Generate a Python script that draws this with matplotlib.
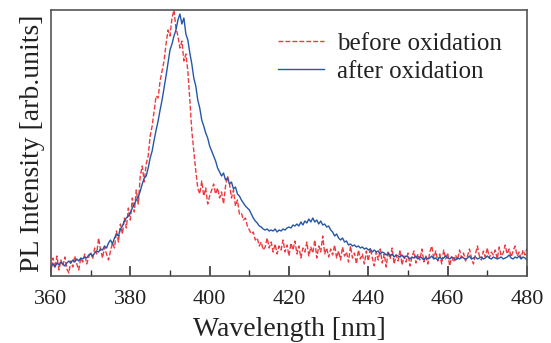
import numpy as np
import matplotlib as mpl
mpl.use('Agg')
import matplotlib.pyplot as plt

plt.rcParams['font.family'] = ['Liberation Serif', 'DejaVu Serif']

# wavelength grid, 0.5 nm steps from 360 to 480 nm
wl = np.arange(360, 480.5, 0.5)

# PL intensity after oxidation (arb. units)
after = [
    10, 12, 9, 13, 11, 14, 12, 10, 13, 15, 13, 16, 14, 17, 15, 18, 17, 19, 18, 21,
    22, 20, 23, 25, 24, 27, 26, 30, 28, 33, 36, 32, 38, 42, 40, 47, 50, 55, 58, 60,
    63, 68, 72, 76, 79, 85, 92, 98, 100, 108, 118, 125, 136, 146, 155, 166, 176, 188, 200, 213,
    226, 232, 240, 246, 256, 262, 252, 258, 242, 236, 223, 212, 198, 190, 176, 168, 156, 150, 143, 138,
    130, 125, 120, 115, 108, 104, 100, 103, 96, 98, 92, 94, 87, 89, 82, 80, 76, 73, 70, 68,
    66, 62, 58, 55, 53, 50, 49, 47, 46, 47, 45, 46, 45, 47, 44, 46, 45, 47, 46, 48,
    49, 48, 51, 50, 52, 50, 54, 51, 55, 53, 57, 54, 58, 54, 56, 52, 55, 51, 52, 49,
    50, 46, 44, 40, 42, 38, 36, 38, 34, 35, 31, 32, 30, 31, 29, 30, 28, 29, 27, 28,
    26, 27, 24, 26, 24, 25, 22, 24, 23, 21, 23, 20, 22, 19, 21, 20, 19, 21, 18, 20,
    19, 17, 19, 18, 20, 17, 19, 18, 16, 19, 17, 18, 20, 17, 18, 16, 19, 17, 18, 20,
    18, 17, 19, 18, 16, 18, 17, 19, 18, 17, 18, 20, 17, 18, 19, 17, 18, 19, 17, 18,
    20, 18, 17, 19, 18, 17, 18, 19, 17, 18, 19, 21, 18, 17, 19, 18, 20, 17, 19, 18,
    16,
]

# PL intensity before oxidation (arb. units)
before = [
    2, 18, 8, 20, 6, 16, 10, 19, 7, 3, 15, 9, 20, 12, 6, 18, 14, 22, 12, 19,
    24, 17, 28, 22, 38, 26, 18, 29, 22, 16, 25, 33, 28, 45, 34, 52, 42, 58, 48, 68,
    56, 78, 64, 86, 72, 100, 110, 94, 112, 120, 140, 150, 165, 180, 178, 195, 205, 215, 232, 246,
    240, 258, 266, 248, 240, 228, 235, 215, 222, 205, 176, 145, 125, 105, 88, 82, 95, 80, 88, 72,
    80, 86, 92, 82, 88, 78, 84, 72, 90, 100, 92, 78, 86, 70, 76, 62, 63, 56, 58, 50,
    46, 42, 44, 36, 38, 30, 34, 26, 29, 38, 28, 34, 24, 32, 22, 30, 26, 36, 24, 31,
    20, 33, 26, 35, 22, 30, 18, 28, 24, 34, 20, 29, 23, 36, 18, 30, 24, 40, 22, 28,
    19, 27, 21, 31, 18, 25, 16, 29, 20, 24, 14, 30, 18, 23, 12, 26, 17, 22, 12, 25,
    15, 28, 18, 10, 24, 16, 27, 13, 22, 9, 25, 17, 28, 12, 21, 15, 26, 11, 20, 14,
    23, 10, 19, 25, 13, 22, 16, 27, 14, 20, 12, 24, 30, 18, 25, 15, 22, 12, 26, 17,
    23, 10, 19, 14, 21, 16, 26, 18, 23, 15, 20, 27, 18, 12, 22, 30, 20, 16, 25, 19,
    28, 18, 24, 21, 26, 17, 29, 20, 23, 31, 22, 27, 19, 25, 30, 20, 24, 18, 26, 21,
    28,
]

red = '#ee3a3f'
blue = '#2457a8'
spine_col = '#555555'

fig = plt.figure(figsize=(5.51, 3.43), dpi=100)
ax = fig.add_axes([51/551, 67/343, 476/551, 266/343])

ax.plot(wl, before, color=red, lw=1.0, ls=(0, (3.5, 1.5)), label='before oxidation')
ax.plot(wl, after, color=blue, lw=1.0, label='after oxidation')

ax.set_xlim(360, 480)
ax.set_ylim(0, 266)
ax.set_xticks(np.arange(360, 481, 20))
ax.set_xticks(np.arange(370, 480, 20), minor=True)
ax.set_yticks([])
ax.tick_params(axis='x', which='major', direction='in', length=7, width=1.2,
               color='#333333', labelsize=16, pad=10, labelcolor='#222222')
ax.tick_params(axis='x', which='minor', direction='in', length=4, width=1.0,
               color='#333333')
for s in ax.spines.values():
    s.set_color(spine_col)
    s.set_linewidth(1.2)

ax.set_xlabel('Wavelength [nm]', fontsize=20, color='#222222', labelpad=6)
ax.set_ylabel('PL Intensity [arb.units]', fontsize=20, color='#222222', labelpad=4)

ax.legend(loc='upper left', bbox_to_anchor=(0.43, 1.0), frameon=False,
          fontsize=18, handlelength=1.85, handletextpad=0.5, labelspacing=0.2,
          labelcolor='#222222')

plt.savefig('out.png', dpi=100)
